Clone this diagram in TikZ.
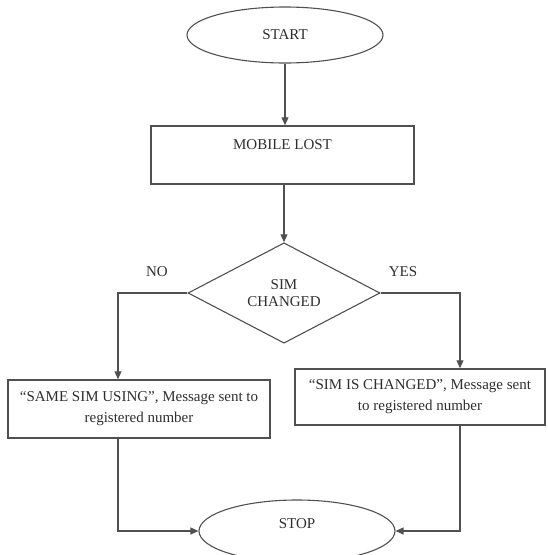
\documentclass[tikz,border=0pt]{standalone}
\usepackage{fontspec}
\setmainfont{Liberation Serif}
\usepackage{tikz}
\usetikzlibrary{arrows.meta}
\usetikzlibrary{shapes.geometric}
\definecolor{linegray}{HTML}{505050}
\definecolor{textgray}{HTML}{2E2E2E}

\begin{document}
\begin{tikzpicture}[x=1pt,y=-1pt,
    every node/.style={text=textgray,font=\fontsize{15}{21}\selectfont},
    term/.style={ellipse,draw=linegray,line width=1.1pt,inner sep=0pt,minimum width=196pt},
    box/.style={rectangle,draw=linegray,line width=1.5pt,inner sep=0pt,align=center},
    ask/.style={diamond,draw=linegray,line width=1.1pt,inner sep=0pt,align=center,minimum width=192pt,minimum height=100pt},
    arr/.style={draw=linegray,line width=1.2pt,-{Triangle[length=8pt,width=7pt]}}]
\useasboundingbox (0,0) rectangle (547,555);
%\draw[red] (0,0) rectangle (547,555);
\node[term,minimum height=56pt] (start) at (285,35) {START};
\node[box,minimum width=263pt,text height=23pt,text depth=35pt] (lost) at (282.5,155) {MOBILE LOST};
\node[ask] (dec) at (284,293) {SIM\\[-4pt]CHANGED};
\node (no) at (157,272) {NO};
\node (yes) at (403,272) {YES};
\node[box,minimum width=262pt,minimum height=58pt] (same) at (139,409) {“SAME SIM USING”, Message sent to\\registered number};
\node[box,minimum width=250pt,minimum height=56pt] (chg) at (420,397) {“SIM IS CHANGED”, Message sent\\to registered number};
\node[term,minimum height=62pt,text height=18pt,text depth=24pt] (stop) at (297,531) {STOP};

\draw[arr] (start) -- (start |- lost.north);
\draw[arr] (dec.north |- lost.south) -- (dec.north);
\draw[arr] (dec.west) -| ([xshift=-21pt]same.north);
\draw[arr] (dec.east) -| ([xshift=40pt]chg.north);
\draw[arr] ([xshift=-21pt]same.south) |- (stop.west);
\draw[arr] ([xshift=40pt]chg.south) |- (stop.east);
\end{tikzpicture}
\end{document}
